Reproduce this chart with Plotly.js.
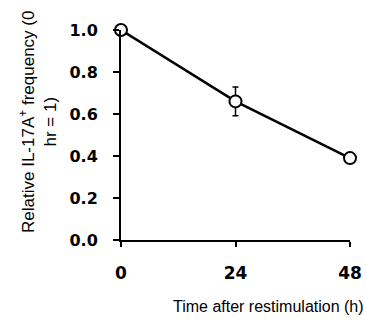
<!DOCTYPE html>
<html><head><meta charset="utf-8">
<script src="https://cdn.plot.ly/plotly-3.0.1.min.js"></script>
<style>html,body{margin:0;padding:0;background:#fff}#c{width:366px;height:325px}</style>
</head><body><div id="c"></div>
<script>
const timeH = [0, 24, 48];
const relFreq = [1.0, 0.66, 0.39];
const errBar = [0, 0.068, 0];
const xTicks = [0, 24, 48];
const yTicks = [0, 0.2, 0.4, 0.6, 0.8, 1.0];

const tickFont = 'DejaVu Sans, Liberation Sans, sans-serif';
const titleFont = 'Liberation Sans, Arial, sans-serif';

const trace = {
  x: timeH, y: relFreq, type: 'scatter', mode: 'lines+markers',
  line: {color: '#000', width: 2.5},
  marker: {symbol: 'circle', size: 12, color: '#fff', line: {color: '#000', width: 2}},
  error_y: {type: 'data', array: errBar, visible: true, color: '#000', thickness: 1.5, width: 3},
  cliponaxis: false
};
const layout = {
  width: 366, height: 325,
  margin: {l: 121, r: 15.5, t: 30, b: 85},
  paper_bgcolor: '#fff', plot_bgcolor: '#fff',
  showlegend: false,
  font: {family: titleFont, color: '#000'},
  xaxis: {
    range: [0, 48], tickvals: xTicks, ticktext: xTicks.map(String),
    showgrid: false, zeroline: false, showline: true, linecolor: '#000', linewidth: 2,
    ticks: 'outside', ticklen: 5, tickwidth: 2, tickcolor: '#000',
    tickfont: {size: 17, family: tickFont, weight: 'bold', color: '#000'},
    ticklabelstandoff: 12, fixedrange: true
  },
  yaxis: {
    range: [0, 1], tickvals: yTicks, ticktext: yTicks.map(v => v.toFixed(1)),
    showgrid: false, zeroline: false, showline: true, linecolor: '#000', linewidth: 2,
    ticks: 'outside', ticklen: 6, tickwidth: 2, tickcolor: '#000',
    tickfont: {size: 16, family: tickFont, weight: 'bold', color: '#000'},
    ticklabelstandoff: 12, fixedrange: true
  },
  annotations: [
    {text: 'Time after restimulation (h)', xref: 'paper', yref: 'paper',
     x: 0.645, y: -0.319, xanchor: 'center', yanchor: 'middle', showarrow: false,
     font: {size: 16, family: titleFont, color: '#000'}},
    {text: 'Relative IL-17A<sup>+</sup> frequency (0<br>hr = 1)', xref: 'paper', yref: 'paper',
     x: -0.36, y: 0.56, xanchor: 'center', yanchor: 'middle', showarrow: false, textangle: -90,
     font: {size: 17, family: titleFont, color: '#000'}}
  ]
};
Plotly.newPlot('c', [trace], layout, {displayModeBar: false, staticPlot: true});
</script></body></html>
